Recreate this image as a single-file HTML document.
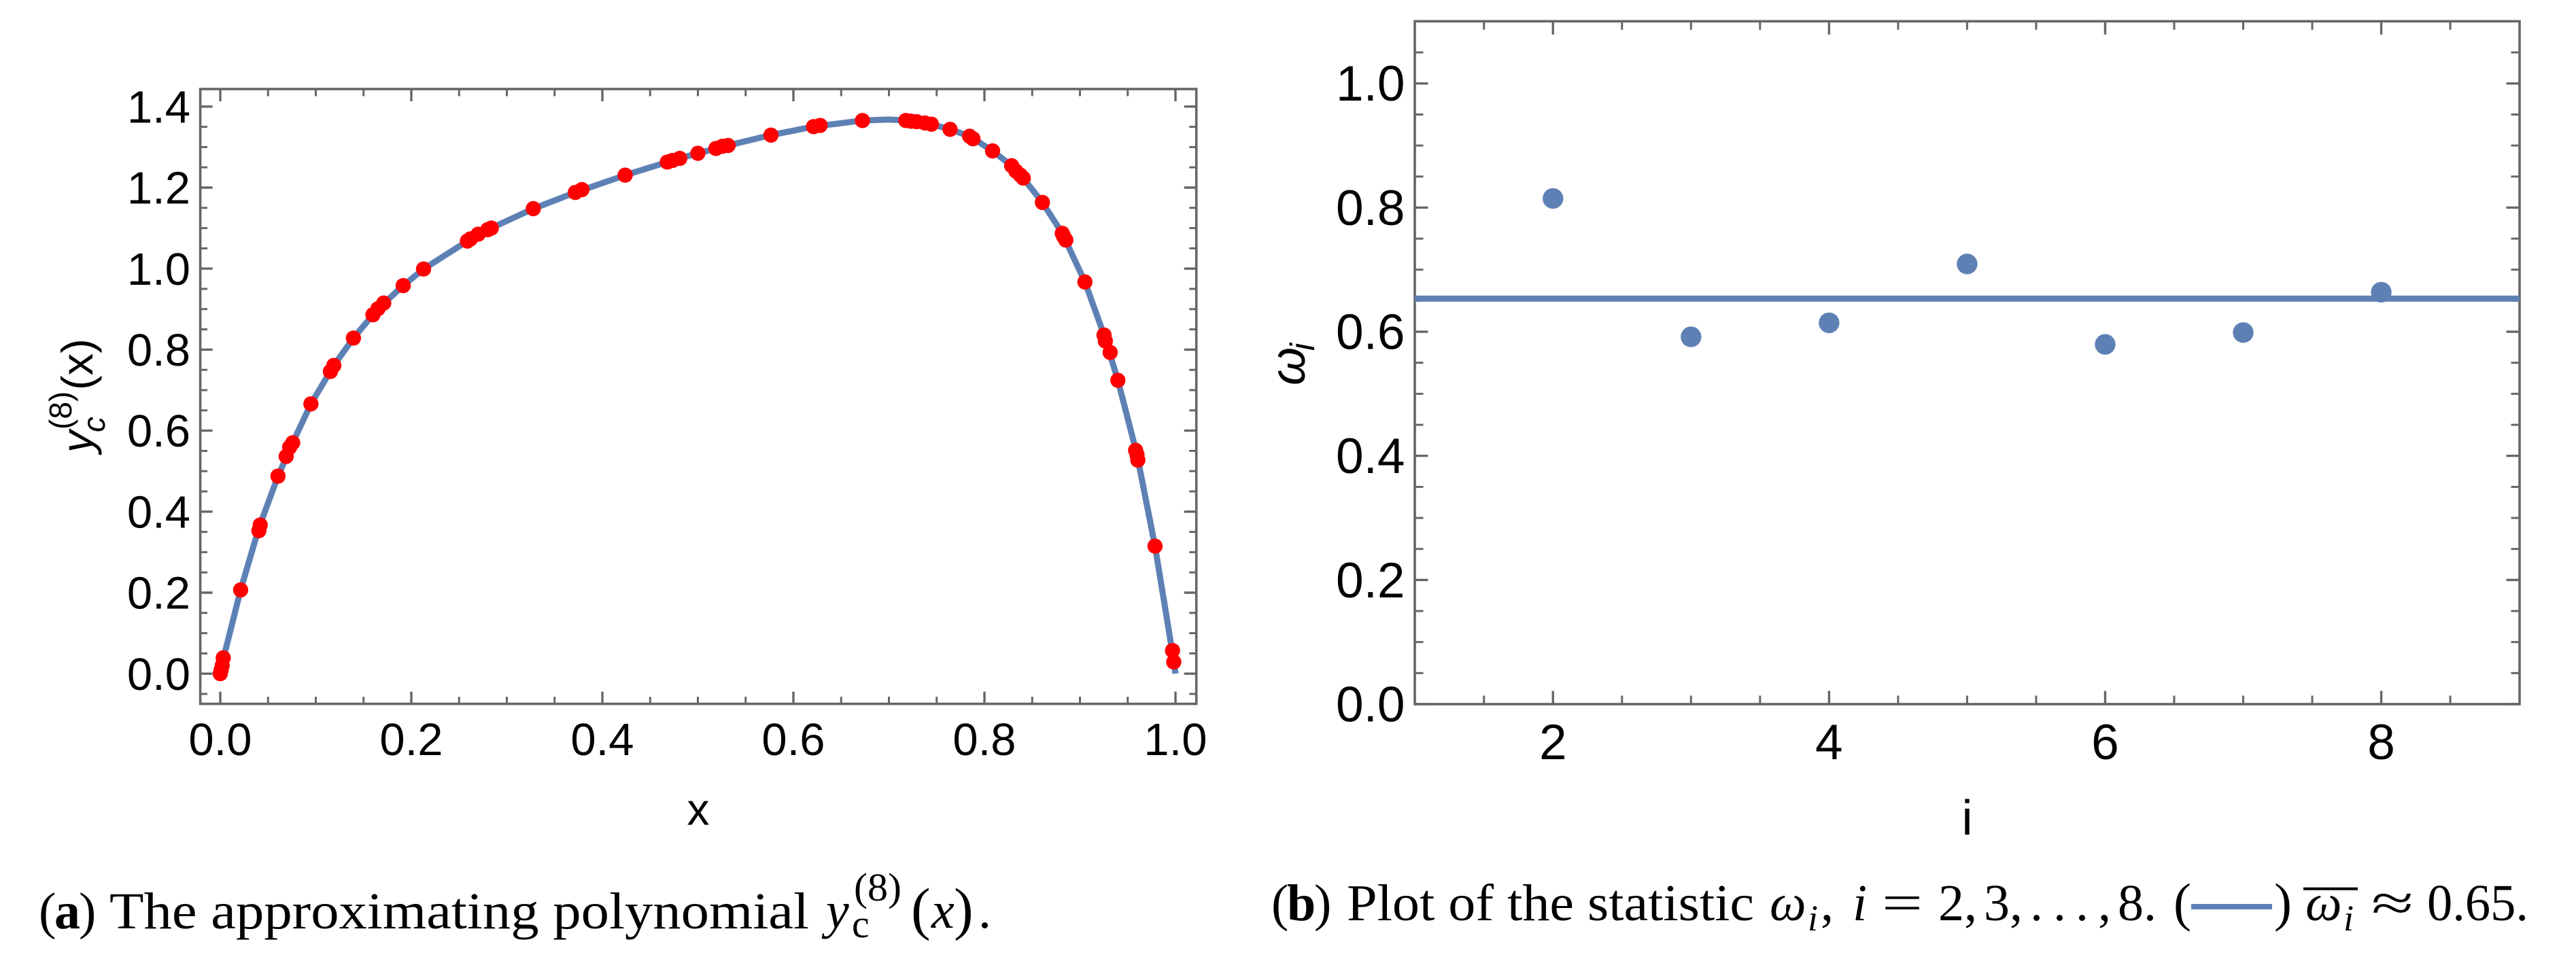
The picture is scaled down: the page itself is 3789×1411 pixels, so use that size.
<!DOCTYPE html>
<html lang="en">
<head>
<meta charset="utf-8">
<title>Approximating polynomial and statistic plots</title>
<style>
html,body{margin:0;padding:0;background:#fff;}
svg{display:block;}
.sans{font-family:"Liberation Sans",sans-serif;fill:#000;}
.serif{font-family:"Liberation Serif",serif;fill:#000;}
.it{font-style:italic;}
</style>
</head>
<body>
<svg id="figure" xmlns="http://www.w3.org/2000/svg" width="3789" height="1411" viewBox="0 0 3789 1411">
  <rect x="0" y="0" width="3789" height="1411" fill="#fff"/>
  <g id="chartA"></g>
  <g id="chartB"></g>

  <g>
    <text class="sans" x="1027" y="1213.5" font-size="66" text-anchor="middle">x</text>
  </g>
  <g>
    <text class="sans it" transform="translate(136,666) rotate(-90)" font-size="65">y</text>
    <text class="sans it" transform="translate(154,636) rotate(-90)" font-size="46">c</text>
    <text class="sans" transform="translate(105,632) rotate(-90)" font-size="46">(8)</text>
    <text class="sans" transform="translate(136,574) rotate(-90)" font-size="65">(x)</text>
  </g>
  <g>
    <text class="sans" x="2893.5" y="1228" font-size="72" text-anchor="middle">i</text>
  </g>
  <g>
    <text class="sans it" transform="translate(1919,567) rotate(-90)" font-size="72">ω</text>
    <text class="sans it" transform="translate(1933,516) rotate(-90)" font-size="50">i</text>
  </g>

  <g>
    <text class="serif" x="57" y="1366" font-size="76">(</text>
    <text class="serif" x="80" y="1366" font-size="76" font-weight="bold">a</text>
    <text class="serif" x="116" y="1366" font-size="76">)</text>
    <text class="serif" x="161" y="1366" font-size="76" textLength="1029" lengthAdjust="spacingAndGlyphs">The approximating polynomial</text>
    <text class="serif it" x="1215" y="1365" font-size="76">y</text>
    <text class="serif" x="1253" y="1379" font-size="58">c</text>
    <text class="serif" x="1256" y="1325" font-size="58" textLength="70" lengthAdjust="spacingAndGlyphs">(8)</text>
    <text class="serif" x="1340" y="1366" font-size="86">(</text>
    <text class="serif it" x="1370" y="1365" font-size="76">x</text>
    <text class="serif" x="1403" y="1366" font-size="86">)</text>
    <text class="serif" x="1439" y="1365" font-size="76">.</text>
  </g>

  <g>
    <text class="serif" x="1870" y="1354" font-size="76">(</text>
    <text class="serif" x="1893" y="1354" font-size="76" font-weight="bold">b</text>
    <text class="serif" x="1933" y="1354" font-size="76">)</text>
    <text class="serif" x="1981" y="1354" font-size="76" textLength="599" lengthAdjust="spacingAndGlyphs">Plot of the statistic</text>
    <text class="serif it" x="2603" y="1354" font-size="76">ω</text>
    <text class="serif it" x="2659" y="1369" font-size="54">i</text>
    <text class="serif" x="2678" y="1354" font-size="76">,</text>
    <text class="serif it" x="2725" y="1354" font-size="76">i</text>
    <text class="serif" x="2768" y="1354" font-size="76" textLength="60" lengthAdjust="spacingAndGlyphs">=</text>
    <text class="serif" x="2851" y="1354" font-size="76">2,</text>
    <text class="serif" x="2918" y="1354" font-size="76">3,</text>
    <text class="serif" x="2986" y="1354" font-size="76">.</text>
    <text class="serif" x="3020" y="1354" font-size="76">.</text>
    <text class="serif" x="3053" y="1354" font-size="76">.</text>
    <text class="serif" x="3086" y="1354" font-size="76">,</text>
    <text class="serif" x="3115" y="1354" font-size="76">8.</text>
    <text class="serif" x="3197" y="1354" font-size="78">(</text>
    <rect x="3223" y="1330" width="119" height="8" fill="#5e81b5"/>
    <text class="serif" x="3345" y="1354" font-size="78">)</text>
    <rect x="3388" y="1305.7" width="80" height="4" fill="#000"/>
    <text class="serif it" x="3391" y="1354" font-size="76">ω</text>
    <text class="serif it" x="3447" y="1369" font-size="54">i</text>
    <text class="serif" x="3488" y="1354" font-size="76" textLength="62" lengthAdjust="spacingAndGlyphs">≈</text>
    <text class="serif" x="3570" y="1354" font-size="76" textLength="149" lengthAdjust="spacingAndGlyphs">0.65.</text>
  </g>
</svg>

<script>
// ---- Chart (a) data ----
const aXTickValues = [0, 0.2, 0.4, 0.6, 0.8, 1.0];
const aXTickLabels = ['0.0', '0.2', '0.4', '0.6', '0.8', '1.0'];
const aYTickValues = [0, 0.2, 0.4, 0.6, 0.8, 1.0, 1.2, 1.4];
const aYTickLabels = ['0.0', '0.2', '0.4', '0.6', '0.8', '1.0', '1.2', '1.4'];
const curveX = [0, 0.003, 0.0213, 0.0404, 0.0604, 0.0758, 0.0949, 0.1189, 0.1394, 0.1651, 0.1915, 0.2128, 0.2587, 0.2837, 0.3277, 0.3717, 0.4239, 0.4735, 0.5, 0.5316, 0.5765, 0.6211, 0.6723, 0.70, 0.7177, 0.7445, 0.7640, 0.7845, 0.8085, 0.8285, 0.8406, 0.8607, 0.8815, 0.9052, 0.9252, 0.9397, 0.9597, 0.9786, 0.99, 0.9969, 1];
const curveY = [0, 0.035, 0.2067, 0.36, 0.4877, 0.570, 0.666, 0.761, 0.8285, 0.901, 0.958, 0.999, 1.068, 1.100, 1.148, 1.188, 1.2307, 1.267, 1.2847, 1.304, 1.3295, 1.3505, 1.3656, 1.368, 1.3656, 1.3565, 1.3438, 1.3267, 1.2906, 1.254, 1.2235, 1.1633, 1.087, 0.967, 0.836, 0.7243, 0.5406, 0.3148, 0.15, 0.05, 0];
const sampleX = [0, 0.001, 0.002, 0.0031, 0.0213, 0.0404, 0.0418, 0.0604, 0.0690, 0.0726, 0.0758, 0.0949, 0.1153, 0.1189, 0.1394, 0.1598, 0.1651, 0.1711, 0.1915, 0.2128, 0.2587, 0.262, 0.270, 0.280, 0.2837, 0.3277, 0.3717, 0.3786, 0.4239, 0.468, 0.4735, 0.481, 0.500, 0.5189, 0.5257, 0.5316, 0.5765, 0.6211, 0.628, 0.6723, 0.7177, 0.723, 0.729, 0.7377, 0.7445, 0.7640, 0.7845, 0.788, 0.8085, 0.8285, 0.833, 0.8376, 0.8406, 0.8607, 0.8815, 0.883, 0.8852, 0.9052, 0.9252, 0.9266, 0.9316, 0.9397, 0.9583, 0.9597, 0.9606, 0.9786, 0.9969, 0.9982];
const sampleY = [0, 0.01, 0.02, 0.039, 0.2067, 0.353, 0.367, 0.4877, 0.5364, 0.559, 0.570, 0.666, 0.746, 0.761, 0.8285, 0.886, 0.901, 0.915, 0.958, 0.999, 1.068, 1.0735, 1.085, 1.096, 1.100, 1.148, 1.188, 1.195, 1.2307, 1.263, 1.267, 1.272, 1.2847, 1.2966, 1.302, 1.304, 1.3295, 1.3505, 1.3535, 1.3656, 1.3656, 1.364, 1.3627, 1.3595, 1.3565, 1.3438, 1.3267, 1.3205, 1.2906, 1.254, 1.2405, 1.2307, 1.2235, 1.1633, 1.087, 1.079, 1.0705, 0.967, 0.836, 0.821, 0.793, 0.7243, 0.5513, 0.5406, 0.5273, 0.3148, 0.057, 0.029];

// ---- Chart (b) data ----
const bXTickValues = [2, 4, 6, 8];
const bXTickLabels = ['2', '4', '6', '8'];
const bYTickValues = [0, 0.2, 0.4, 0.6, 0.8, 1.0];
const bYTickLabels = ['0.0', '0.2', '0.4', '0.6', '0.8', '1.0'];
const statI = [2, 3, 4, 5, 6, 7, 8];
const statOmega = [0.8147, 0.5918, 0.6143, 0.7092, 0.5796, 0.5987, 0.6637];
const statMean = [0.6534];

const SVGNS = 'http://www.w3.org/2000/svg';
function add(parent, tag, attrs, text) {
  const el = document.createElementNS(SVGNS, tag);
  for (const k in attrs) el.setAttribute(k, attrs[k]);
  if (text !== undefined) el.textContent = text;
  parent.appendChild(el);
  return el;
}

const FRAME = '#666666';
const BLUE = '#5e81b5';

function tickMark(group, x1, y1, x2, y2, width, name) {
  const t = add(group, 'line', {x1: x1, y1: y1, x2: x2, y2: y2, stroke: FRAME, 'stroke-width': width});
  
  
}

function drawFrame(root, box, sx, sy, xT, xL, yT, yL, xMinor, yMinor, style) {
  const ticks = add(root, 'g', {});
  
  
  xMinor.forEach(function (v) {
    tickMark(ticks, sx(v), box.top, sx(v), box.top + style.minor, 3, 'x-minor-tick');
    tickMark(ticks, sx(v), box.bottom, sx(v), box.bottom - style.minor, 3, 'x-minor-tick');
  });
  yMinor.forEach(function (v) {
    tickMark(ticks, box.left, sy(v), box.left + style.minor, sy(v), 3, 'y-minor-tick');
    tickMark(ticks, box.right, sy(v), box.right - style.minor, sy(v), 3, 'y-minor-tick');
  });
  xT.forEach(function (v, i) {
    tickMark(ticks, sx(v), box.top, sx(v), box.top + style.major, 3.4, 'x-major-tick');
    tickMark(ticks, sx(v), box.bottom, sx(v), box.bottom - style.major, 3.4, 'x-major-tick');
    const l = add(root, 'text', {'class': 'sans', x: sx(v), y: style.xBase, 'font-size': style.font, 'text-anchor': 'middle'}, xL[i]);
    
    
  });
  yT.forEach(function (v, i) {
    tickMark(ticks, box.left, sy(v), box.left + style.major, sy(v), 3.4, 'y-major-tick');
    tickMark(ticks, box.right, sy(v), box.right - style.major, sy(v), 3.4, 'y-major-tick');
    const l = add(root, 'text', {'class': 'sans', x: style.yRight, y: sy(v) + style.yOffset, 'font-size': style.font, 'text-anchor': 'end'}, yL[i]);
    
    
  });
  const f = add(root, 'rect', {x: box.left, y: box.top, width: box.right - box.left, height: box.bottom - box.top, fill: 'none', stroke: FRAME, 'stroke-width': 3.6});
  
  
}

// ---- Chart (a) ----
(function () {
  const root = document.getElementById('chartA');
  const box = {left: 294.6, right: 1759.7, top: 131, bottom: 1035.6};
  const sx = function (v) { return 324 + 1405 * v; };
  const sy = function (v) { return 991.2 - 596 * v; };
  const xMinor = [], yMinor = [];
  for (let k = 0; k <= 20; k++) if (k % 4) xMinor.push(k * 0.05);
  for (let k = -1; k <= 28; k++) if (k % 4) yMinor.push(k * 0.05);
  drawFrame(root, box, sx, sy, aXTickValues, aXTickLabels, aYTickValues, aYTickLabels, xMinor, yMinor,
    {major: 18, minor: 10.5, font: 67, xBase: 1111, yRight: 280, yOffset: 23.6});
  let d = '';
  curveX.forEach(function (v, i) { d += (i ? 'L' : 'M') + sx(v).toFixed(1) + ' ' + sy(curveY[i]).toFixed(1); });
  const curve = add(root, 'path', {d: d, fill: 'none', stroke: BLUE, 'stroke-width': 9, 'stroke-linejoin': 'round'});
  
  
  sampleX.forEach(function (v, i) {
    const c = add(root, 'circle', {cx: sx(v), cy: sy(sampleY[i]), r: 11.2, fill: '#ff0000'});
    
    
  });
})();

// ---- Chart (b) ----
(function () {
  const root = document.getElementById('chartB');
  const box = {left: 2081, right: 3706, top: 31.3, bottom: 1036};
  const sx = function (v) { return 2081.2 + 203.05 * (v - 1); };
  const sy = function (v) { return 1036 - 913.2 * v; };
  const xMinor = [], yMinor = [];
  for (let k = 3; k <= 17; k++) if (k % 4) xMinor.push(k * 0.5);
  for (let k = 1; k <= 21; k++) if (k % 4) yMinor.push(k * 0.05);
  drawFrame(root, box, sx, sy, bXTickValues, bXTickLabels, bYTickValues, bYTickLabels, xMinor, yMinor,
    {major: 19.5, minor: 12.5, font: 73, xBase: 1117, yRight: 2066.5, yOffset: 25.4});
  const mean = add(root, 'line', {x1: sx(1), x2: sx(9), y1: sy(statMean[0]), y2: sy(statMean[0]), stroke: BLUE, 'stroke-width': 9});
  
  
  statI.forEach(function (v, i) {
    const c = add(root, 'circle', {cx: sx(v), cy: sy(statOmega[i]), r: 15.2, fill: BLUE});
    
    
  });
})();
</script>
</body>
</html>
